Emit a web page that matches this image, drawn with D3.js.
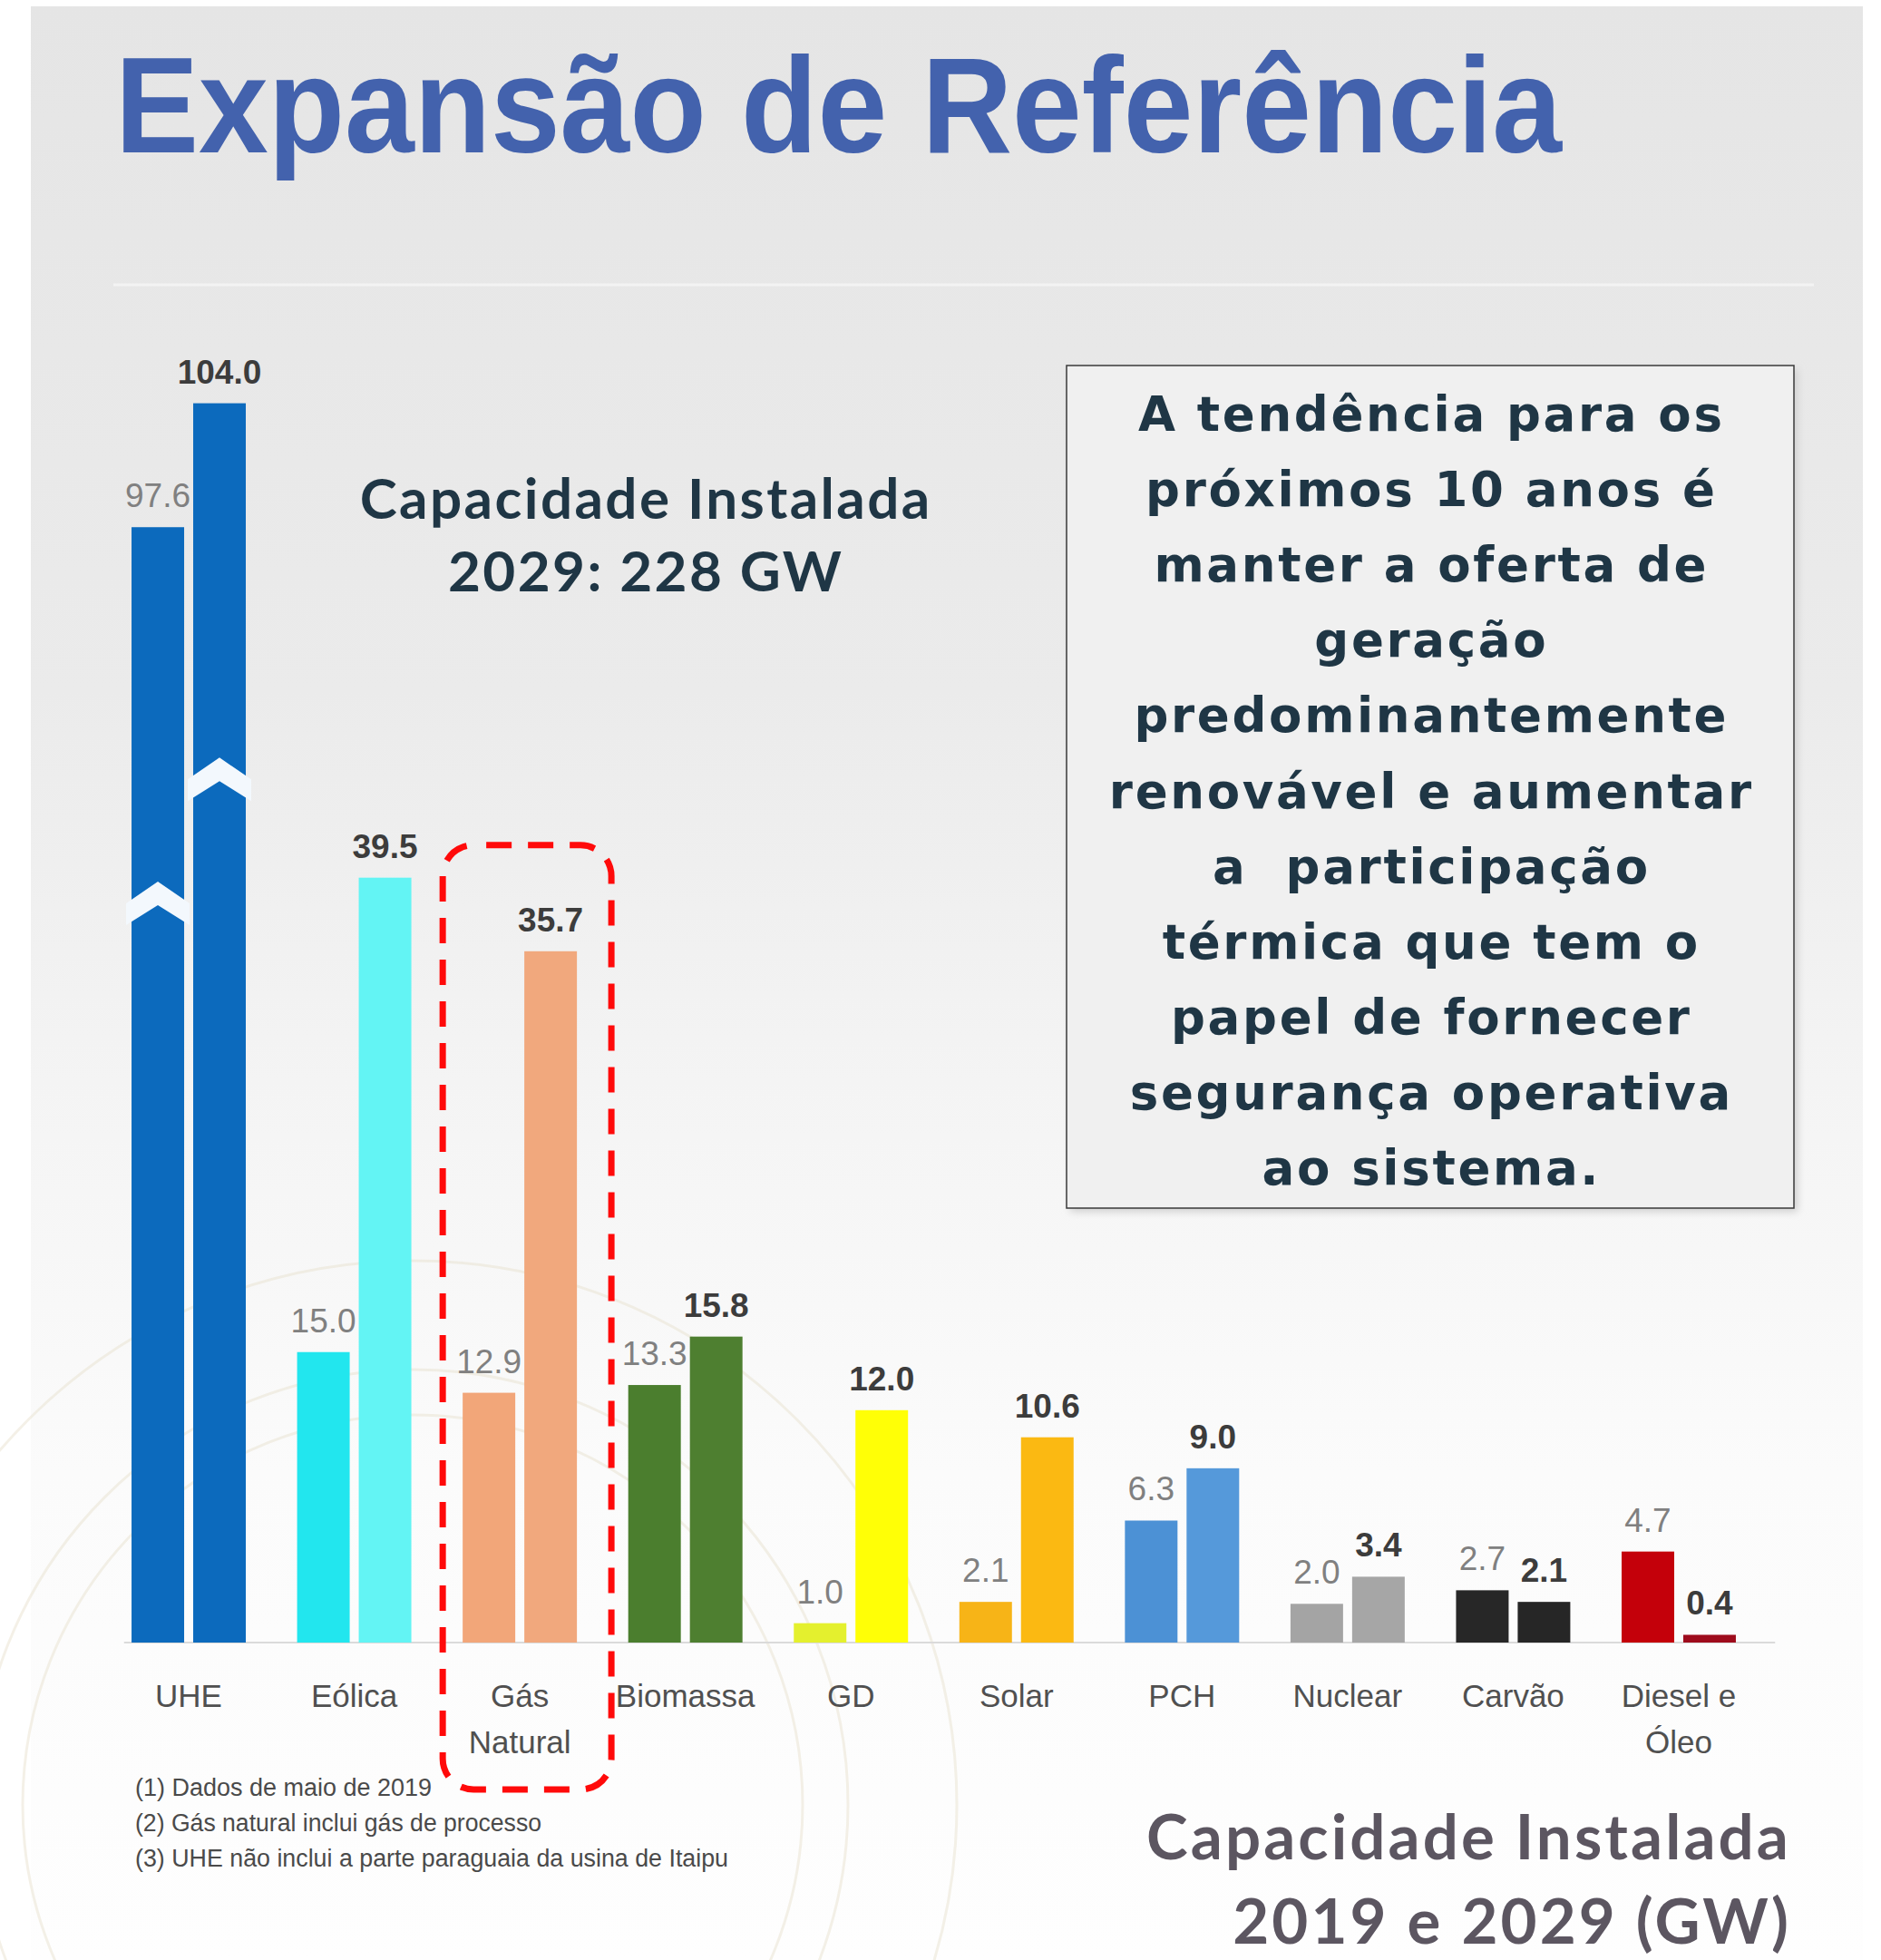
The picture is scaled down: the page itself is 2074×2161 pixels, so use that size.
<!DOCTYPE html>
<html>
<head>
<meta charset="utf-8">
<script src="https://cdn.jsdelivr.net/npm/d3@7"></script>
<style>
  body { margin: 0; background: #fff; }
  svg { display: block; }
</style>
</head>
<body>
<svg id="chart"></svg>
<script>
// Capacidade instalada por fonte (GW)
const categories = ["UHE", "Eólica", "Gás Natural", "Biomassa", "GD", "Solar", "PCH", "Nuclear", "Carvão", "Diesel e Óleo"];
const categoryLines = [["UHE"], ["Eólica"], ["Gás", "Natural"], ["Biomassa"], ["GD"], ["Solar"], ["PCH"], ["Nuclear"], ["Carvão"], ["Diesel e", "Óleo"]];
const years = ["2019", "2029"];
const cap2019 = [97.6, 15.0, 12.9, 13.3, 1.0, 2.1, 6.3, 2.0, 2.7, 4.7];
const cap2029 = [104.0, 39.5, 35.7, 15.8, 12.0, 10.6, 9.0, 3.4, 2.1, 0.4];
const colors2019 = ["#0c6abd", "#22e6ee", "#f2a679", "#4b7e2e", "#e4f02e", "#f7b417", "#4c91d5", "#a4a4a4", "#272727", "#c4000a"];
const colors2029 = ["#0c6abd", "#63f4f4", "#f1a87d", "#4e7f30", "#ffff06", "#fbb912", "#5599da", "#a6a6a6", "#262626", "#9e0b1c"];

// UHE bars are drawn with a broken axis
const brokenCategory = "UHE";
const breakCut = 40;      // GW removed from the broken bars
const breakDepth = 18.3;  // GW below the bar top where the break mark sits

const pageTitle = "Expansão de Referência";
const centerNote = ["Capacidade Instalada", "2029: 228 GW"];
const boxLines = [
  "A tendência para os",
  "próximos 10 anos é",
  "manter a oferta de",
  "geração",
  "predominantemente",
  "renovável e aumentar",
  "a  participação",
  "térmica que tem o",
  "papel de fornecer",
  "segurança operativa",
  "ao sistema."
];
const footnotes = [
  "(1) Dados de maio de 2019",
  "(2) Gás natural inclui gás de processo",
  "(3) UHE não inclui a parte paraguaia da usina de Itaipu"
];
const footnoteWidths = [327, 448, 654];
const chartCaption = ["Capacidade Instalada", "2019 e 2029 (GW)"];

const W = 2074, H = 2161;
const baseY = 1811;

const svg = d3.select("#chart").attr("width", W).attr("height", H);
const defs = svg.append("defs");

const bg = defs.append("linearGradient").attr("id", "bg").attr("x1", 0).attr("y1", 0).attr("x2", 0).attr("y2", 1);
bg.append("stop").attr("offset", "0").attr("stop-color", "#e5e5e5");
bg.append("stop").attr("offset", "0.35").attr("stop-color", "#ebebeb");
bg.append("stop").attr("offset", "0.55").attr("stop-color", "#f4f4f4");
bg.append("stop").attr("offset", "0.75").attr("stop-color", "#fbfbfb");
bg.append("stop").attr("offset", "1").attr("stop-color", "#fefefe");

const shadow = defs.append("filter").attr("id", "shadow").attr("x", "-5%").attr("y", "-5%").attr("width", "115%").attr("height", "115%");
shadow.append("feGaussianBlur").attr("stdDeviation", 4);

// spread letters of a text group so that one reference line gets its measured width
function fitTracking(sel, idx, target) {
  const node = sel.nodes()[idx];
  const w = node.getComputedTextLength();
  const n = node.textContent.length;
  const ls = Math.max(0, (target - w) / n);
  sel.attr("letter-spacing", ls).attr("dx", sel.attr("text-anchor") === "end" ? 0 : ls / 2);
}

// slide background
svg.append("rect").attr("width", W).attr("height", H).attr("fill", "#fff");
svg.append("rect").attr("x", 34).attr("y", 7).attr("width", 2020).attr("height", H - 7).attr("fill", "url(#bg)");

// faint decorative arcs
const deco = svg.append("g").attr("fill", "none").attr("stroke", "#e7e0cc").attr("stroke-width", 3).attr("opacity", 0.45);
[430, 480, 600].forEach(r => deco.append("circle").attr("cx", 455).attr("cy", 1990).attr("r", r));

// title
svg.append("text")
  .attr("x", 127).attr("y", 168)
  .attr("textLength", 1595).attr("lengthAdjust", "spacingAndGlyphs")
  .attr("font-family", "'Liberation Sans', Arial, sans-serif")
  .attr("font-weight", "bold").attr("font-size", 150)
  .attr("fill", "#4362ad")
  .text(pageTitle);
svg.append("line").attr("x1", 125).attr("x2", 2000).attr("y1", 314).attr("y2", 314)
  .attr("stroke", "#f3f3f3").attr("stroke-width", 3);

// scales
const x = d3.scaleBand().domain(categories).range([116.75, 1942.25]).paddingInner(0.31).paddingOuter(0.155);
const x1 = d3.scaleBand().domain(years).range([0, x.bandwidth()]).paddingInner(0.147);
const y = d3.scaleLinear().domain([0, 70]).range([baseY, baseY - 70 * 21.35]);

const bars = [];
categories.forEach((c, i) => {
  bars.push({ cat: c, year: "2019", value: cap2019[i], color: colors2019[i] });
  bars.push({ cat: c, year: "2029", value: cap2029[i], color: colors2029[i] });
});
const shown = d => d.cat === brokenCategory ? d.value - breakCut : d.value;
const bx = d => x(d.cat) + x1(d.year);

// axis baseline
svg.append("line")
  .attr("x1", x.range()[0] + 20).attr("x2", x.range()[1] + 15)
  .attr("y1", y(0)).attr("y2", y(0))
  .attr("stroke", "#dadada").attr("stroke-width", 2);

// bars
svg.append("g").selectAll("rect")
  .data(bars)
  .join("rect")
  .attr("x", bx)
  .attr("y", d => y(shown(d)))
  .attr("width", x1.bandwidth())
  .attr("height", d => y(0) - y(shown(d)))
  .attr("fill", d => d.color);

// break marks on the UHE bars
svg.append("g").selectAll("path")
  .data(bars.filter(d => d.cat === brokenCategory))
  .join("path")
  .attr("fill", "#f3f8fd")
  .attr("d", d => {
    const x0 = bx(d) - 6, xr = bx(d) + x1.bandwidth() + 6, xc = bx(d) + x1.bandwidth() / 2;
    const ya = y(shown(d) - breakDepth);
    return `M${x0},${ya + 24}L${xc},${ya}L${xr},${ya + 24}L${xr},${ya + 48}L${xc},${ya + 26}L${x0},${ya + 48}Z`;
  });

// value labels
svg.append("g").selectAll("text")
  .data(bars)
  .join("text")
  .attr("x", d => bx(d) + x1.bandwidth() / 2)
  .attr("y", d => y(shown(d)) - 22)
  .attr("text-anchor", "middle")
  .attr("font-family", "'Liberation Sans', Arial, sans-serif")
  .attr("font-size", 37)
  .attr("font-weight", d => d.year === "2029" ? "bold" : "normal")
  .attr("fill", d => d.year === "2029" ? "#3c3c3c" : "#808080")
  .text(d => d3.format(".1f")(d.value));

// category labels
const catG = svg.append("g")
  .attr("font-family", "'Liberation Sans', Arial, sans-serif")
  .attr("font-size", 35).attr("fill", "#505050").attr("text-anchor", "middle");
categories.forEach((c, i) => {
  categoryLines[i].forEach((ln, j) => {
    catG.append("text")
      .attr("x", x(c) + x.bandwidth() / 2)
      .attr("y", 1882 + j * 51)
      .text(ln);
  });
});

// red dashed highlight around Gás Natural
const gas = categories[2];
svg.append("rect")
  .attr("x", x(gas) - 22).attr("y", y(cap2029[2]) - 117)
  .attr("width", x.bandwidth() + 60).attr("height", 1973 - (y(cap2029[2]) - 117))
  .attr("rx", 34).attr("ry", 34)
  .attr("fill", "none").attr("stroke", "#ff0a0a").attr("stroke-width", 7)
  .attr("stroke-dasharray", "28 18").attr("stroke-dashoffset", -14);

// footnotes
svg.append("g").selectAll("text")
  .data(footnotes)
  .join("text")
  .attr("x", 149).attr("y", (d, i) => 1980 + i * 39)
  .attr("textLength", (d, i) => footnoteWidths[i]).attr("lengthAdjust", "spacingAndGlyphs")
  .attr("font-family", "'Liberation Sans', Arial, sans-serif")
  .attr("font-size", 27).attr("fill", "#4a4a4a")
  .text(d => d);

// center note
const noteText = svg.append("g").selectAll("text")
  .data(centerNote)
  .join("text")
  .attr("x", 711).attr("y", (d, i) => 572 + i * 80)
  .attr("text-anchor", "middle")
  .attr("font-family", "Lato, sans-serif").attr("font-weight", "bold")
  .attr("font-size", 62).attr("fill", "#1f3645")
  .text(d => d);
fitTracking(noteText, 0, 631);

// text box
svg.append("rect").attr("x", 1180).attr("y", 407).attr("width", 802).attr("height", 929)
  .attr("fill", "#cfcfcf").attr("filter", "url(#shadow)");
svg.append("rect").attr("x", 1176).attr("y", 403).attr("width", 802).attr("height", 929)
  .attr("fill", "#f0f0f0").attr("stroke", "#3a3a3a").attr("stroke-width", 1.5);
const boxText = svg.append("g").selectAll("text")
  .data(boxLines)
  .join("text")
  .attr("x", 1577).attr("y", (d, i) => 475 + i * 83.1)
  .attr("text-anchor", "middle")
  .style("white-space", "pre")
  .attr("font-family", "'DejaVu Sans', sans-serif").attr("font-weight", "bold")
  .attr("font-size", 53).attr("fill", "#1f3645")
  .text(d => d);
fitTracking(boxText, 5, 711);

// chart caption
const captionText = svg.append("g").selectAll("text")
  .data(chartCaption)
  .join("text")
  .attr("x", 1975).attr("y", (d, i) => 2050 + i * 93)
  .attr("text-anchor", "end")
  .attr("font-family", "Lato, sans-serif").attr("font-weight", "bold")
  .attr("font-size", 69).attr("fill", "#5c5661")
  .attr("stroke", "#ffffff").attr("stroke-width", 5).attr("stroke-opacity", 0.6)
  .attr("paint-order", "stroke")
  .text(d => d);
fitTracking(captionText, 0, 711);
</script>
</body>
</html>
